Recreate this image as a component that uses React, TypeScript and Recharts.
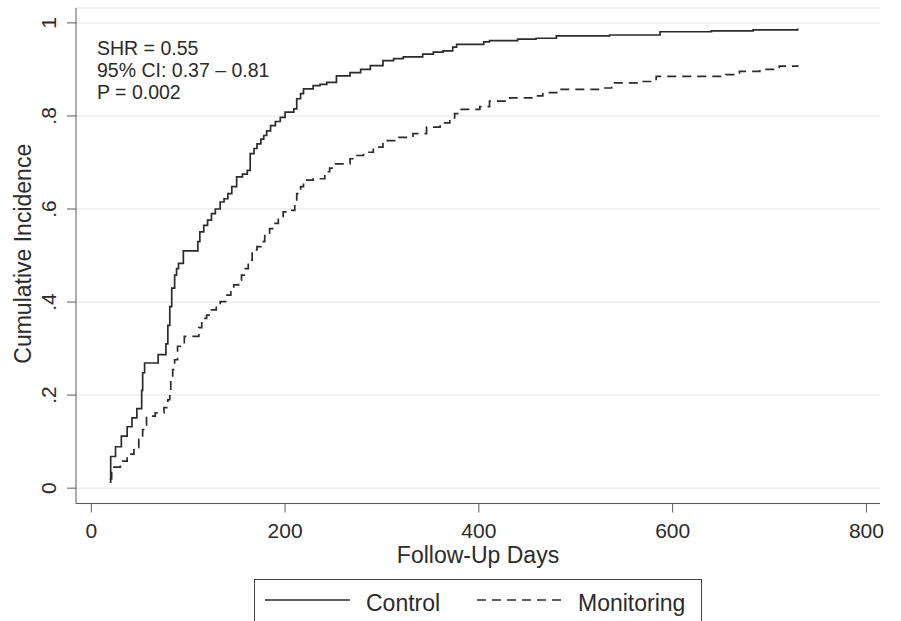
import { CartesianGrid, Line, LineChart, XAxis, YAxis } from "recharts";

// cumulative incidence
const controlDays = [
  19, 20, 25, 31, 37, 42, 47, 52, 53, 55, 69, 77, 79, 81, 83, 86, 88, 90, 95,
  110, 112, 116, 120, 124, 128, 133, 137, 141, 145, 150, 156, 161, 164, 168,
  171, 175, 178, 181, 185, 190, 195, 200, 209, 212, 216, 219, 229, 236, 243,
  253, 267, 278, 288, 301, 312, 322, 342, 353, 363, 373, 377, 405, 411, 440,
  459, 480, 535, 587, 640, 683, 729,
];
const controlValues = [
  0.013, 0.068, 0.089, 0.112, 0.132, 0.151, 0.171, 0.21, 0.248, 0.269, 0.287,
  0.31, 0.35, 0.39, 0.43, 0.458, 0.472, 0.483, 0.51, 0.53, 0.551, 0.565, 0.576,
  0.59, 0.6, 0.615, 0.622, 0.633, 0.648, 0.669, 0.675, 0.683, 0.719, 0.73, 0.74,
  0.75, 0.758, 0.768, 0.779, 0.788, 0.797, 0.808, 0.815, 0.837, 0.848, 0.858,
  0.865, 0.868, 0.872, 0.886, 0.893, 0.9, 0.908, 0.919, 0.923, 0.927, 0.933,
  0.937, 0.94, 0.948, 0.954, 0.959, 0.962, 0.965, 0.967, 0.972, 0.974, 0.981,
  0.983, 0.985, 0.988,
];

const monitoringDays = [
  19, 21, 30, 37, 44, 49, 53, 57, 66, 75, 79, 81, 82, 84, 86, 89, 96, 111, 114,
  119, 124, 129, 133, 140, 144, 147, 152, 155, 159, 162, 166, 171, 175, 179,
  184, 188, 193, 198, 207, 210, 212, 216, 219, 229, 241, 246, 252, 267, 274,
  281, 291, 301, 315, 332, 346, 360, 370, 375, 380, 401, 411, 432, 459, 466,
  483, 528, 537, 566, 583, 655, 669, 690, 710, 729,
];
const monitoringValues = [
  0.02, 0.045, 0.058, 0.073, 0.087, 0.105, 0.126, 0.155, 0.162, 0.173, 0.19,
  0.21, 0.233, 0.255, 0.276, 0.305, 0.326, 0.345, 0.365, 0.372, 0.383, 0.392,
  0.401, 0.415, 0.425, 0.437, 0.447, 0.458, 0.472, 0.49, 0.512, 0.519, 0.53,
  0.548, 0.558, 0.569, 0.58, 0.594, 0.597, 0.615, 0.633, 0.648, 0.662, 0.665,
  0.68, 0.688, 0.697, 0.708, 0.715, 0.722, 0.733, 0.747, 0.754, 0.762, 0.776,
  0.785, 0.796, 0.805, 0.814, 0.82, 0.832, 0.839, 0.843, 0.85, 0.857, 0.86,
  0.871, 0.874, 0.885, 0.889, 0.896, 0.9, 0.907, 0.909,
];

const xTicks = [0, 200, 400, 600, 800];
const yTicks = [0, 0.2, 0.4, 0.6, 0.8, 1];
const yTickLabels = ["0", ".2", ".4", ".6", ".8", "1"];
const statsLines = ["SHR = 0.55", "95% CI: 0.37 – 0.81", "P = 0.002"];

const control = controlDays.map((day, i) => ({ day, value: controlValues[i] }));
const monitoring = monitoringDays.map((day, i) => ({
  day,
  value: monitoringValues[i],
}));

const FONT = "'Liberation Sans', Arial, Helvetica, sans-serif";
const INK = "#2b2b2b";
const AXIS = "#5a5a5a";
const DASH = "9 6";

function XTick({ x, y, payload }: any) {
  return (
    <text x={x} y={y + 23} textAnchor="middle" fontSize={21} fill={INK} fontFamily={FONT}>
      {payload.value}
    </text>
  );
}

function YTick({ x, y, payload }: any) {
  const i = yTicks.indexOf(payload.value);
  const bx = x - 9;
  return (
    <text
      x={bx}
      y={y}
      transform={`rotate(-90, ${bx}, ${y})`}
      textAnchor="middle"
      fontSize={21}
      fill={INK}
      fontFamily={FONT}
    >
      {yTickLabels[i] ?? payload.value}
    </text>
  );
}

function YTitle({ viewBox }: any) {
  const cy = viewBox.y + viewBox.height / 2 - 2;
  return (
    <text
      x={31}
      y={cy}
      transform={`rotate(-90, 31, ${cy})`}
      textAnchor="middle"
      fontSize={23}
      fill={INK}
      fontFamily={FONT}
    >
      Cumulative Incidence
    </text>
  );
}

function XTitle({ viewBox }: any) {
  return (
    <text
      x={viewBox.x + viewBox.width / 2}
      y={viewBox.y + 59.5}
      textAnchor="middle"
      fontSize={23}
      fill={INK}
      fontFamily={FONT}
    >
      Follow-Up Days
    </text>
  );
}

export default function App() {
  return (
    <div
      style={{
        position: "absolute",
        left: 0,
        top: 0,
        width: 901,
        height: 621,
        background: "#fff",
        overflow: "hidden",
        fontFamily: FONT,
      }}
    >
      <LineChart
        width={901}
        height={621}
        margin={{ top: 8, right: 21, left: 0, bottom: 57.5 }}
      >
        <CartesianGrid vertical={false} stroke="#ececec" strokeWidth={1.5} />
        <XAxis
          dataKey="day"
          type="number"
          domain={[-15.8, 814]}
          ticks={xTicks}
          allowDataOverflow
          height={60}
          stroke={AXIS}
          tickSize={9}
          tick={<XTick />}
          label={<XTitle />}
        />
        <YAxis
          type="number"
          domain={[-0.033, 1.032]}
          ticks={yTicks}
          allowDataOverflow
          width={76}
          stroke={AXIS}
          tickSize={9}
          tick={<YTick />}
          label={<YTitle />}
        />
        <Line
          data={control}
          dataKey="value"
          type="stepAfter"
          stroke={INK}
          strokeWidth={1.7}
          dot={false}
          isAnimationActive={false}
        />
        <Line
          data={monitoring}
          dataKey="value"
          type="stepAfter"
          stroke={INK}
          strokeWidth={1.7}
          strokeDasharray={DASH}
          dot={false}
          isAnimationActive={false}
        />
      </LineChart>

      {/* stats annotation */}
      <div
        style={{
          position: "absolute",
          left: 97,
          top: 36.5,
          fontSize: 19.5,
          lineHeight: "22px",
          color: INK,
          whiteSpace: "pre",
        }}
      >
        {statsLines.map((s) => (
          <div key={s}>{s}</div>
        ))}
      </div>

      {/* legend box */}
      <svg
        style={{ position: "absolute", left: 254, top: 579 }}
        width={449}
        height={60}
      >
        <rect x={0.5} y={0.5} width={447} height={58} fill="#fff" stroke="#444" />
        <line x1={11} y1={21} x2={96} y2={21} stroke={INK} strokeWidth={1.7} />
        <text x={112} y={32} fontSize={23} fill={INK} fontFamily={FONT}>
          Control
        </text>
        <line
          x1={223}
          y1={21}
          x2={310}
          y2={21}
          stroke={INK}
          strokeWidth={1.7}
          strokeDasharray={DASH}
        />
        <text x={324} y={32} fontSize={23} fill={INK} fontFamily={FONT}>
          Monitoring
        </text>
      </svg>
    </div>
  );
}
